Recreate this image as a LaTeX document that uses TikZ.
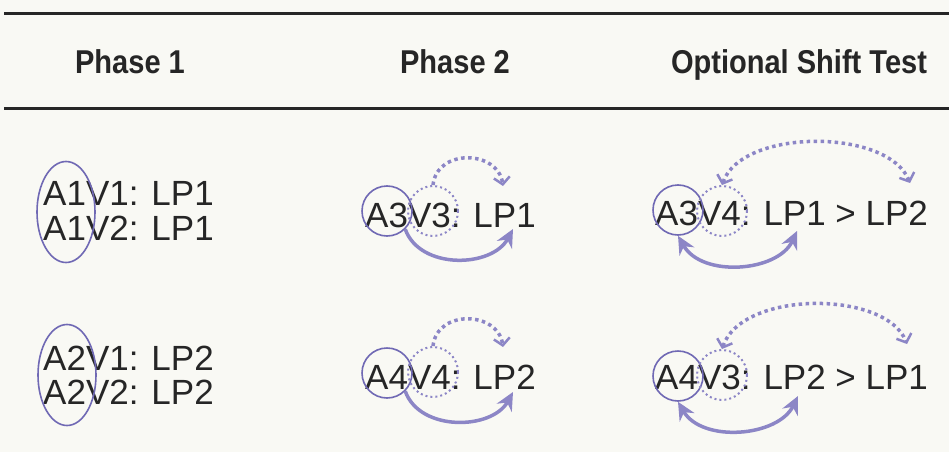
\documentclass[tikz,border=0pt]{standalone}
\usepackage{fontspec}
\setmainfont{Liberation Sans}
\newfontfamily\headfont[FakeStretch=0.88]{Liberation Sans}
\usepackage{tikz}
\usetikzlibrary{positioning,arrows.meta,shapes.geometric}
\definecolor{bgcol}{HTML}{F9F9F4}
\definecolor{inkcol}{HTML}{262626}
\definecolor{ringcol}{HTML}{7069B4}
\definecolor{arrowcol}{HTML}{8C86C6}

\begin{document}
\begin{tikzpicture}[x=1pt,y=-1pt,
    txt/.style={font=\fontsize{35}{40}\selectfont, text=inkcol, inner sep=0pt, anchor=base west},
    head/.style={font=\headfont\bfseries\fontsize{33}{38}\selectfont, text=inkcol, inner sep=0pt, anchor=base},
    ring/.style={circle, draw=ringcol, line width=1.6pt, minimum size=50pt, inner sep=0pt},
    dring/.style={circle, draw=arrowcol, line width=2pt, dash pattern=on 2pt off 3pt, minimum size=50pt, inner sep=0pt},
    oval/.style={ellipse, draw=ringcol, line width=1.6pt, minimum width=58pt, minimum height=101pt, inner sep=0pt},
    bigarrow/.style={draw=arrowcol, line width=3.5pt, -{Stealth[length=18pt,width=17pt,inset=6pt]}},
    bigboth/.style={draw=arrowcol, line width=3.5pt, {Stealth[length=18pt,width=17pt,inset=6pt]}-{Stealth[length=18pt,width=17pt,inset=6pt]}},
    dotarrow/.style={draw=arrowcol, line width=3.5pt, dash pattern=on 3.5pt off 3.5pt, -{Straight Barb[length=7pt,width=16pt,line width=2.5pt]}},
    dotboth/.style={draw=arrowcol, line width=3.5pt, dash pattern=on 3.5pt off 3.5pt, {Straight Barb[length=7pt,width=16pt,line width=2.5pt]}-{Straight Barb[length=7pt,width=16pt,line width=2.5pt]}}]

    % Fundo
    \fill[bgcol] (0,0) rectangle (949,452);
    \useasboundingbox (0,0) rectangle (949,452);

    % Linhas do cabecalho
    \draw[inkcol,line width=3pt] (4,14) -- (949,14);
    \draw[inkcol,line width=3pt] (4,108) -- (949,108);

    % Titulos
    \node[head] (h1) at (130,74) {Phase 1};
    \node[head] (h2) at (455,74) {Phase 2};
    \node[head] (h3) at (799,74) {Optional Shift Test};

    % Phase 1
    \node[txt] (p1a) at (43,205) {A1V1: LP1};
    \node[txt] (p1b) at (43,240) {A1V2: LP1};
    \node[oval] (o1) at (66,212) {};
    \node[txt] (p1c) at (43,370) {A2V1: LP2};
    \node[txt] (p1d) at (43,404) {A2V2: LP2};
    \node[oval] (o2) at (67,375) {};

    % Phase 2
    \node[txt] (p2a) at (365,227) {A3V3: LP1};
    \node[ring] (r2a) at (387,211) {};
    \node[dring] (d2a) at (433,211) {};
    \coordinate (t2a) at (503,186);
    \coordinate (s2a) at (513,229);
    \draw[dotarrow] (d2a.north) .. controls (437,148) and (498,150) .. (t2a);
    \draw[bigarrow] (r2a.south east) .. controls (420,270) and (492,268) .. (s2a);

    \node[txt] (p2b) at (365,389) {A4V4: LP2};
    \node[ring] (r2b) at (387,373) {};
    \node[dring] (d2b) at (433,372) {};
    \coordinate (t2b) at (503,347);
    \coordinate (s2b) at (513,392);
    \draw[dotarrow] (d2b.north) .. controls (437,309) and (498,311) .. (t2b);
    \draw[bigarrow] (r2b.south east) .. controls (420,432) and (492,430) .. (s2b);

    % Shift test
    \node[txt] (p3a) at (655,225) {A3V4: LP1 > LP2};
    \node[ring] (r3a) at (678,210) {};
    \node[dring] (d3a) at (722,211) {};
    \coordinate (t3a) at (910,183);
    \coordinate (s3a) at (797,231);
    \draw[dotboth] (d3a.north) .. controls (742,128) and (888,128) .. (t3a);
    \draw[bigboth] (r3a.south) .. controls (702,278) and (778,272) .. (s3a);

    \node[txt] (p3b) at (655,389) {A4V3: LP2 > LP1};
    \node[ring] (r3b) at (678,376) {};
    \node[dring] (d3b) at (722,375) {};
    \coordinate (t3b) at (907,344);
    \coordinate (s3b) at (798,396);
    \draw[dotboth] (d3b.north) .. controls (742,290) and (886,290) .. (t3b);
    \draw[bigboth] (r3b.south) .. controls (702,443) and (778,437) .. (s3b);
\end{tikzpicture}
\end{document}
